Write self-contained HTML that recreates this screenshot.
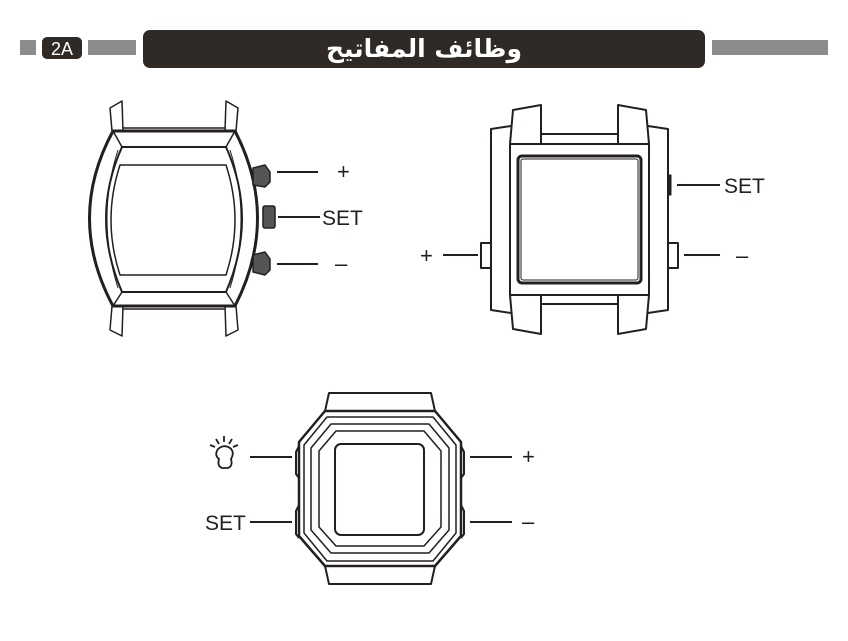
<!DOCTYPE html>
<html><head><meta charset="utf-8"><style>
body{margin:0;background:#fff;}
svg{display:block;}
text{font-family:"Liberation Sans",sans-serif;fill:#231f20;}
</style></head><body>
<svg width="848" height="641" viewBox="0 0 848 641" xmlns="http://www.w3.org/2000/svg">
<rect x="20" y="40" width="808" height="15" fill="#8c8c8c"/>
<rect x="36" y="38" width="6" height="20" fill="#fff"/>
<rect x="82" y="38" width="6" height="20" fill="#fff"/>
<rect x="42" y="37" width="40" height="22" rx="5" fill="#302a27"/>
<text x="62" y="55" font-size="18" text-anchor="middle" style="fill:#fff">2A</text>
<rect x="136" y="38" width="7" height="20" fill="#fff"/>
<rect x="705" y="38" width="7" height="20" fill="#fff"/>
<rect x="143" y="30" width="562" height="38" rx="7" fill="#302a27"/>
<text x="424" y="57" font-size="25" font-weight="bold" text-anchor="middle" style="fill:#fff;font-family:'DejaVu Sans',sans-serif">وظائف المفاتيح</text>

<g fill="none" stroke="#231f20" stroke-linejoin="round">
<path d="M112,131 L110,108 L122,101 L123,131 M236,131 L238,108 L226,101 L225,131" stroke-width="1.5"/>
<line x1="123" y1="128" x2="225" y2="128" stroke-width="1.5"/>
<path d="M112,306 L110,330 L122,336 L123,306 M236,306 L238,330 L226,336 L225,306" stroke-width="1.5"/>
<line x1="123" y1="309" x2="225" y2="309" stroke-width="1.5"/>
<path d="M113,131 L235,131 Q280,218 235,306 L113,306 Q66,218 113,131 Z" stroke-width="3"/>
<path d="M122,147 L226,147 Q258,218 226,292 L122,292 Q90,218 122,147 Z" stroke-width="2"/>
<path d="M113,131 L122,147 M235,131 L226,147 M113,306 L122,292 M235,306 L226,292" stroke-width="1.5"/>
<path d="M120,165 L226,165 Q244,220 226,275 L120,275 Q102,220 120,165 Z" stroke-width="1.5"/>
<path d="M118,150 Q96,218 118,288 M230,150 Q252,218 230,288" stroke-width="1"/>
<path d="M253,168 L265,165 L270,172 L270,182 L265,187 L253,185 Z" fill="#555" stroke-width="1.5"/>
<path d="M253,255 L265,252 L270,259 L270,270 L265,275 L253,272 Z" fill="#555" stroke-width="1.5"/>
<rect x="263" y="206" width="12" height="22" rx="2" fill="#555" stroke-width="1.5"/>
<line x1="277" y1="172" x2="318" y2="172" stroke-width="2"/>
<line x1="278" y1="217" x2="320" y2="217" stroke-width="2"/>
<line x1="277" y1="264" x2="318" y2="264" stroke-width="2"/>

<rect x="510" y="144" width="139" height="151" stroke-width="2"/>
<rect x="518" y="156" width="123" height="127" rx="4" stroke-width="3"/>
<rect x="521" y="159" width="117" height="121" rx="2" stroke-width="1"/>
<path d="M510,144 L513,110 L541,105 L541,144 M649,144 L646,110 L618,105 L618,144" stroke-width="2"/>
<rect x="541" y="134" width="77" height="10" stroke-width="2"/>
<path d="M510,295 L513,329 L541,334 L541,295 M649,295 L646,329 L618,334 L618,295" stroke-width="2"/>
<rect x="541" y="295" width="77" height="9" stroke-width="2"/>
<path d="M511,126 L491,129 L491,310 L511,313 M648,126 L668,129 L668,310 L648,313" stroke-width="2"/>
<rect x="481" y="243" width="10" height="25" stroke-width="2"/>
<rect x="668" y="243" width="10" height="25" stroke-width="2"/>
<rect x="668" y="175" width="3" height="20" fill="#231f20" stroke-width="1"/>
<line x1="677" y1="185" x2="720" y2="185" stroke-width="2"/>
<line x1="443" y1="255" x2="478" y2="255" stroke-width="2"/>
<line x1="684" y1="255" x2="720" y2="255" stroke-width="2"/>

<path d="M325,411 L329,393 L431,393 L435,411" stroke-width="2"/>
<path d="M325,566 L329,584 L431,584 L435,566" stroke-width="2"/>
<path d="M325,411 L435,411 L461,442 L461,536 L435,566 L325,566 L299,536 L299,442 Z" stroke-width="2.5"/>
<path d="M327,417 L433,417 L456,445 L456,533 L433,561 L327,561 L304,533 L304,445 Z" stroke-width="1.5"/>
<path d="M331,424 L429,424 L449,448 L449,530 L429,553 L331,553 L311,530 L311,448 Z" stroke-width="1.5"/>
<path d="M336,431 L424,431 L441,451 L441,527 L424,546 L336,546 L319,527 L319,451 Z" stroke-width="1.5"/>
<rect x="335" y="444" width="89" height="91" rx="6" stroke-width="2"/>
<path d="M299,446 L296,452 L296,474 L299,478 M299,505 L296,511 L296,534 L299,538" stroke-width="2"/>
<path d="M461,446 L464,452 L464,474 L461,478 M461,505 L464,511 L464,534 L461,538" stroke-width="2"/>
<line x1="250" y1="457" x2="292" y2="457" stroke-width="2"/>
<line x1="250" y1="522" x2="292" y2="522" stroke-width="2"/>
<line x1="470" y1="457" x2="512" y2="457" stroke-width="2"/>
<line x1="470" y1="522" x2="512" y2="522" stroke-width="2"/>
<path d="M222,468 Q217,466 219,459 Q214,455 218,449 Q224,444 230,448 Q235,452 231,459 Q233,466 228,468 Z" stroke-width="1.8"/>
<path d="M224,436 L224,442 M216,439 L219,444 M232,439 L229,444 M210,445 L215,447 M238,445 L233,447" stroke-width="1.8"/>
</g>

<text x="337" y="179" font-size="22" font-weight="100">+</text>
<text x="322" y="225" font-size="21">SET</text>
<text x="335" y="271" font-size="22">–</text>
<text x="724" y="193" font-size="21">SET</text>
<text x="420" y="263" font-size="22">+</text>
<text x="736" y="263" font-size="22">–</text>
<text x="205" y="530" font-size="21">SET</text>
<text x="522" y="464" font-size="22">+</text>
<text x="522" y="529" font-size="22">–</text>
</svg>
</body></html>
